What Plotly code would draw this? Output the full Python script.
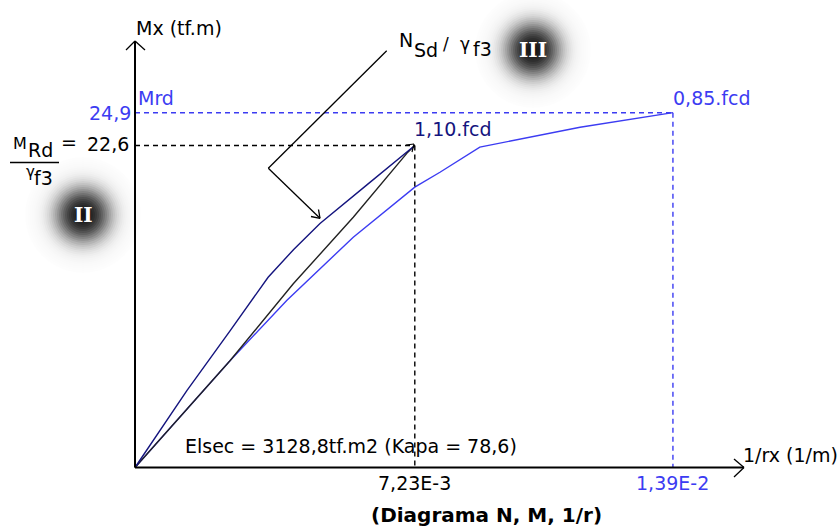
import math
import plotly.graph_objects as go

# ---------------- data ----------------
curv_navy = [0, 1.34e-3, 2.46e-3, 3.44e-3, 4.10e-3, 4.78e-3, 6.0e-3, 7.02e-3, 7.23e-3]
mom_navy = [0, 5.40, 9.61, 13.35, 15.30, 17.12, 19.85, 22.13, 22.6]

curv_black = [0, 2.46e-3, 4.09e-3, 5.64e-3, 7.05e-3, 7.23e-3]
mom_black = [0, 7.51, 12.89, 17.56, 22.13, 22.6]

curv_blue = [0, 2.46e-3, 3.92e-3, 5.64e-3, 7.23e-3, 7.88e-3, 8.91e-3, 1.15e-2, 1.39e-2]
mom_blue = [0, 7.51, 11.72, 16.16, 19.67, 20.72, 22.48, 23.88, 24.9]

m_rd_gamma = 22.6      # MRd / gamma_f3
curv_rd_gamma = 7.23e-3
m_rd = 24.9
curv_rd = 1.39e-2

tick_rd_gamma = "7,23E-3"
tick_rd = "1,39E-2"
lab_m_rd_gamma = "22,6"
lab_m_rd = "24,9"

W, H = 838, 529
NAVY = "#14147e"
BLUE = "#3c3cf2"
FONT = "DejaVu Sans"

# pixel mapping (origin at px 135, 467.5)
OX, OY = 135.0, 467.5
SX = 38700.0     # px per unit curvature
SY = 14.25       # px per tf.m
x_range = [(0 - OX) / SX, (W - OX) / SX]
y_range = [(OY - H) / SY, (OY - 0) / SY]


def px_of(x):
    return OX + x * SX


def py_of(y):
    return OY - y * SY


def pxp(px):
    return px / W


def pyp(py):
    return 1 - py / H


fig = go.Figure()

# curves
fig.add_trace(go.Scatter(x=curv_blue, y=mom_blue, mode="lines",
                         line=dict(color=BLUE, width=1.4), hoverinfo="skip", showlegend=False))
fig.add_trace(go.Scatter(x=curv_black, y=mom_black, mode="lines",
                         line=dict(color="#222222", width=1.4), hoverinfo="skip", showlegend=False))
fig.add_trace(go.Scatter(x=curv_navy, y=mom_navy, mode="lines",
                         line=dict(color=NAVY, width=1.4), hoverinfo="skip", showlegend=False))

shapes = []


def line_px(x0, y0, x1, y1, color="black", width=1.3, dash="solid"):
    shapes.append(dict(type="line", xref="paper", yref="paper",
                       x0=pxp(x0), y0=pyp(y0), x1=pxp(x1), y1=pyp(y1),
                       line=dict(color=color, width=width, dash=dash)))


# soft glow discs behind the roman numerals (stacked translucent circles)
def glow(cx, cy):
    def target(r):
        return 0.95 / (1 + math.exp((r - 24.0) / 7.0))
    radii = list(range(58, 0, -2))
    prev = 0.0
    for r in radii:
        t = target(r)
        a = 1 - (1 - t) / (1 - prev)
        prev = t
        if a <= 0:
            continue
        shapes.append(dict(type="circle", xref="paper", yref="paper", layer="below",
                           x0=pxp(cx - r), x1=pxp(cx + r), y0=pyp(cy + r), y1=pyp(cy - r),
                           fillcolor="black", opacity=a, line=dict(width=0)))


glow(83, 215)
glow(533, 50)

# dashed reference lines
gx = px_of(curv_rd_gamma)
gy = py_of(m_rd_gamma)
rx = px_of(curv_rd)
ry = py_of(m_rd)
line_px(OX, ry, rx, ry, BLUE, 1.4, "5px,4px")
line_px(rx, ry, rx, OY, BLUE, 1.4, "5px,4px")
line_px(OX, gy, gx, gy, "black", 1.4, "5px,4px")
line_px(gx, gy, gx, OY, "black", 1.4, "5px,4px")

# axes
line_px(OX, OY, OX, 41, "black", 2)
line_px(OX, OY, 744, OY, "black", 2)
# axis arrowheads (open)
line_px(126, 50, OX, 41, "black", 1.3)
line_px(OX, 41, 145, 50, "black", 1.3)
line_px(734, 459, 744, OY, "black", 1.3)
line_px(744, OY, 734, 477, "black", 1.3)

# small arrowhead at curve ends
line_px(406, 145, 414, 144, "black", 1.1)
line_px(414, 144, 412, 152, "black", 1.1)

# N_Sd / gamma pointer
line_px(386.7, 50.7, 268.3, 168.3, "black", 1.3)
line_px(268.3, 168.3, 320, 218.3, "black", 1.3)
line_px(320, 218.3, 311, 216.5, "black", 1.3)
line_px(320, 218.3, 318.5, 209.5, "black", 1.3)

# fraction bar
line_px(10, 162.5, 59, 162.5, "black", 1.4)

anns = []


def text_px(x, y, s, color="black", size=19, xanchor="left", yanchor="middle", family=FONT):
    anns.append(dict(x=pxp(x), y=pyp(y), xref="paper", yref="paper", text=s,
                     showarrow=False, xanchor=xanchor, yanchor=yanchor,
                     font=dict(family=family, size=size, color=color)))


text_px(134, 28, "Mx (tf.m)")
text_px(136, 98, "Mrd", BLUE)
text_px(133, 113, lab_m_rd, BLUE, xanchor="right")
text_px(131, 144, lab_m_rd_gamma, xanchor="right")
text_px(79, 142, "=", xanchor="right")
# fraction  M_Rd / gamma_f3
text_px(11, 143, "M", size=16)
text_px(26, 150, "Rd", size=19)
text_px(24, 172, "γ", size=15)
text_px(32, 178, "f3", size=19)
# N_Sd / gamma_f3
text_px(397, 40, "N", size=19)
text_px(412, 50, "Sd", size=19)
text_px(441, 44, "/", size=17)
text_px(458, 44, "γ", size=17)
text_px(471, 49, "f3", size=19)
text_px(412, 129, "1,10.fcd", NAVY)
text_px(671, 98, "0,85.fcd", BLUE)
text_px(183, 446, "Elsec = 3128,8tf.m2 (Kapa = 78,6)")
text_px(gx, 483, tick_rd_gamma, xanchor="center")
text_px(rx, 483, tick_rd, BLUE, xanchor="center")
text_px(741, 455, "1/rx (1/m)")
text_px(486, 515, "<b>(Diagrama N, M, 1/r)</b>", size=20, xanchor="center")
text_px(83, 215, "<b>II</b>", "white", 20, "center", family="DejaVu Serif")
text_px(533, 50, "<b>III</b>", "white", 20, "center", family="DejaVu Serif")

fig.update_layout(
    width=W, height=H,
    margin=dict(l=0, r=0, t=0, b=0),
    paper_bgcolor="white", plot_bgcolor="white",
    xaxis=dict(range=x_range, visible=False, fixedrange=True),
    yaxis=dict(range=y_range, visible=False, fixedrange=True),
    shapes=shapes, annotations=anns, showlegend=False,
)

fig.write_html("out.html")
